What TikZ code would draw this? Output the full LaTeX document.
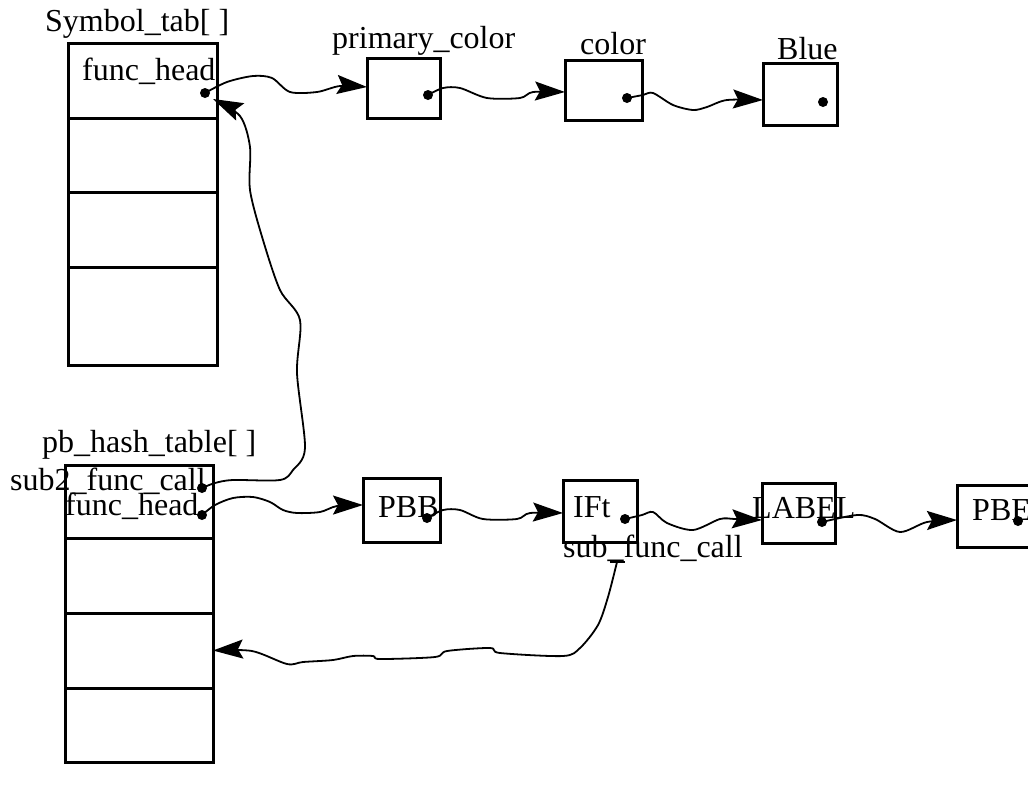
\documentclass[tikz,border=0pt]{standalone}
\usepackage{fontspec}
\setmainfont{Liberation Serif}
\usetikzlibrary{arrows.meta}
\begin{document}
\begin{tikzpicture}[x=1pt,y=-1pt,
  cell/.style={draw, line width=3pt, inner sep=0pt, outer sep=0pt, anchor=north west},
  txt/.style={inner sep=0pt, anchor=base west, font=\fontsize{32}{32}\selectfont},
  dotn/.style={circle, fill, inner sep=0pt, minimum size=10pt},
  conn/.style={line width=1.8pt, -{Stealth[length=30pt, width=19pt, inset=5pt]}},
  plain/.style={line width=1.8pt}]
\useasboundingbox (0,0) rectangle (1028,788);
\clip (0,0) rectangle (1028,788);
% Symbol_tab
\node[txt] (stl) at (45,31) {Symbol\_tab[ ]};
\node[cell, minimum width=149pt, minimum height=75pt] (s1) at (68,43) {};
\node[cell, minimum width=149pt, minimum height=74pt] (s2) at (68,118) {};
\node[cell, minimum width=149pt, minimum height=75pt] (s3) at (68,192) {};
\node[cell, minimum width=149pt, minimum height=98pt] (s4) at (68,267) {};
\node[txt] (sfh) at (82,80) {func\_head};
\node[dotn] (sd) at (205,93) {};
% top list
\node[txt] (pcl) at (332,48) {primary\_color};
\node[cell, minimum width=73pt, minimum height=60pt] (pc) at (367,58) {};
\node[dotn] (pcd) at (428,95) {};
\node[txt] (cl) at (580,54) {color};
\node[cell, minimum width=77pt, minimum height=60pt] (co) at (565,60) {};
\node[dotn] (cod) at (627,98) {};
\node[txt] (bl) at (777,59) {Blue};
\node[cell, minimum width=74pt, minimum height=62pt] (bu) at (763,63) {};
\node[dotn] (bud) at (823,102) {};
% pb_hash_table
\node[txt] (pbl) at (42,452) {pb\_hash\_table[ ]};
\node[cell, minimum width=148pt, minimum height=73pt] (p1) at (65,465) {};
\node[cell, minimum width=148pt, minimum height=75pt] (p2) at (65,538) {};
\node[cell, minimum width=148pt, minimum height=75pt] (p3) at (65,613) {};
\node[cell, minimum width=148pt, minimum height=74pt] (p4) at (65,688) {};
\node[txt] (s2l) at (10,490) {sub2\_func\_call};
\node[txt] (pfh) at (65,515) {func\_head};
\node[dotn] (pd1) at (202,488) {};
\node[dotn] (pd2) at (202,515) {};
% bottom list
\node[cell, minimum width=77pt, minimum height=64pt] (pbb) at (363,478) {};
\node[txt] (pbbl) at (378,517) {PBB};
\node[dotn] (pbbd) at (427,518) {};
\node[cell, minimum width=74pt, minimum height=62pt] (ift) at (563,480) {};
\node[txt] (iftl) at (573,517) {IFt};
\node[dotn] (iftd) at (625,519) {};
\node[txt] (sfc) at (563,557) {sub\_func\_call};
\node[cell, minimum width=73pt, minimum height=60pt] (lab) at (762,483) {};
\node[txt] (labl) at (752,518) {LABEL};
\node[dotn] (labd) at (822,522) {};
\node[cell, minimum width=90pt, minimum height=62pt] (pbe) at (957,485) {};
\node[txt] (pbel) at (972,520) {PBE};
\node[dotn] (pbed) at (1018,521) {};
% tick under sub_func_call
\coordinate (tk) at (617,562);
\draw[plain] (610,562) -- (625,562);
% connectors
\draw[conn] plot[smooth, tension=0.5] coordinates {(sd) (227,82) (253,76) (272,78) (290,92) (317,92) (340,86) ([yshift=1pt]pc.west)};
\draw[conn] plot[smooth, tension=0.5] coordinates {(pcd) (443,88) (460,88) (487,98) (520,98) (533,92) ([yshift=-2pt]co.west)};
\draw[conn] plot[smooth, tension=0.5] coordinates {(cod) (643,95) (653,93) (673,105) (693,110) (707,107) (727,100) ([yshift=-6pt]bu.west)};
\draw[conn] plot[smooth, tension=0.5] coordinates {(pd1) (215,483) (233,480) (280,480) (293,470) (305,448) (297,373) (300,320) (280,290) (263,240) (250,190) (250,147) (240,116) (213,99)};
\draw[conn] plot[smooth, tension=0.5] coordinates {(pd2) (215,505) (233,498) (253,497) (270,502) (283,510) (297,513) (320,512) (337,506) ([yshift=5pt]pbb.west)};
\draw[conn] plot[smooth, tension=0.5] coordinates {(pbbd) (443,510) (460,510) (483,519) (517,519) (530,513) ([yshift=-2pt]ift.west)};
\draw[conn] plot[smooth, tension=0.5] coordinates {(iftd) (642,515) (653,512) (667,523) (693,530) (720,519) (735,519) ([yshift=-7pt]lab.west)};
\draw[conn] plot[smooth, tension=0.5] coordinates {(labd) (857,515) (875,519) (900,532) (927,522) ([yshift=-4pt]pbe.west)};
\draw[conn] plot[smooth, tension=0.5] coordinates {(tk) (608,597) (598,625) (580,648) (563,656) (500,653) (490,648) (447,651) (435,657) (380,659) (373,656) (353,656) (333,660) (303,662) (287,664) (252,651) (p3.east)};
\end{tikzpicture}
\end{document}
